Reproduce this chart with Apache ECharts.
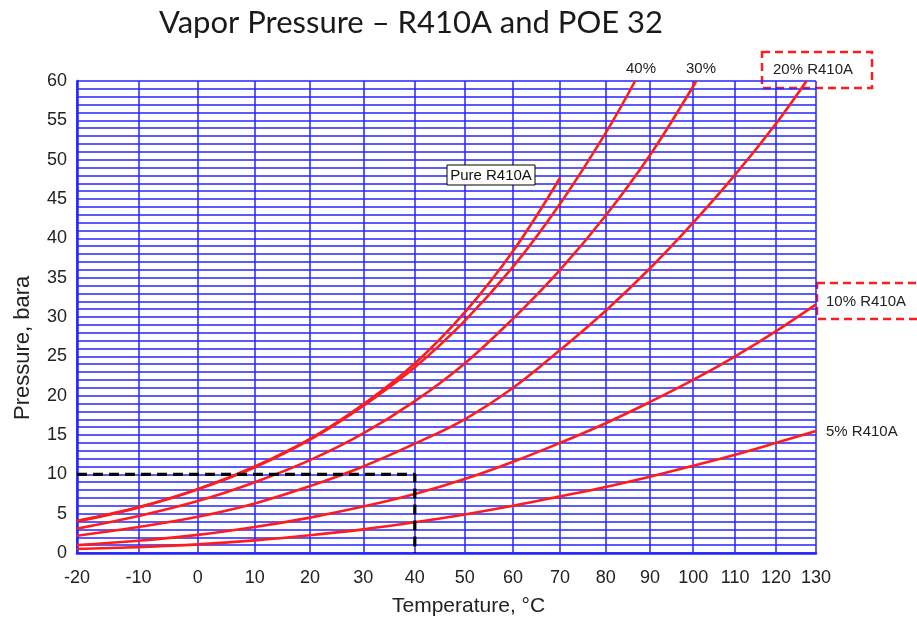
<!DOCTYPE html>
<html><head><meta charset="utf-8">
<script src="https://cdn.jsdelivr.net/npm/echarts@6/dist/echarts.min.js"></script>
<style>html,body{margin:0;padding:0;background:#fff}#c{width:917px;height:624px}</style>
</head><body><div id="c"></div>
<script>
// Temperature ticks (°C); the x axis is logarithmic in absolute temperature
const tempTicks = [-20,-10,0,10,20,30,40,50,60,70,80,90,100,110,120,130];
const temps = [-20,-10,0,10,20,30,40,50,60,70,80,90,100,110,120,130];
const pressureTicks = [0,5,10,15,20,25,30,35,40,45,50,55,60];
// Pressure, bara, at each temperature in temps (series stop where the curve ends)
const purePress  = [4.0,5.8,8.1,11.0,14.5,18.9,24.1,30.6,38.4,47.7];
const pct40Press = [4.1,5.8,8.1,10.9,14.4,18.7,23.6,29.5,36.4,44.4,53.4];
const pct40End   = [86.6,60];
const pct30Press = [3.1,4.7,6.6,9.0,11.8,15.2,19.3,24.1,29.8,36.0,42.9,50.6,59.3];
const pct30End   = [100.7,60];
const pct20Press = [2.2,3.3,4.6,6.3,8.5,11.0,13.9,17.0,21.0,25.8,30.8,36.2,42.0,48.1,54.6];
const pct20End   = [127.6,60];
const pct10Press = [1.0,1.55,2.3,3.3,4.5,5.9,7.5,9.4,11.6,14.0,16.5,19.2,22.0,25.0,28.2,31.6];
const pct5Press  = [0.5,0.75,1.1,1.6,2.25,3.0,3.9,4.9,6.0,7.2,8.4,9.7,11.1,12.5,14.0,15.5];
// Reference dashed guide (°C, bara)
const refTemps = [-20,40,40];
const refPress = [10,10,0];

const K = 273.15;
function build(press, end) {
  const d = press.map((p, i) => [temps[i] + K, p]);
  if (end) d.push([end[0] + K, end[1]]);
  return d;
}
const kTicks = tempTicks.map(t => t + K);
const BLUE = '#2424ff';
const RED = '#ff1c1c';
const curve = (name, data) => ({
  name, type: 'line', data, smooth: 0.4, showSymbol: false, silent: true,
  lineStyle: { color: RED, width: 2.6 }, z: 3
});

const chart = echarts.init(document.getElementById('c'), null, { renderer: 'canvas' });
chart.setOption({
  animation: false,
  backgroundColor: '#fff',
  title: {
    text: 'Vapor Pressure – R410A and POE 32',
    left: 406, top: 2, textAlign: 'center',
    textStyle: { fontFamily: 'Lato', fontSize: 31, fontWeight: 'normal', color: '#1a1a1a' }
  },
  grid: { left: 77, right: 101, top: 81, bottom: 71 },
  xAxis: {
    type: 'log', logBase: 10, min: K - 20, max: K + 130,
    axisLine: { show: true, lineStyle: { color: BLUE, width: 2.5 } },
    axisTick: { show: false, customValues: kTicks },
    axisLabel: {
      customValues: kTicks, margin: 16,
      formatter: v => String(Math.round(v - K)),
      fontFamily: 'Liberation Sans', fontSize: 18, color: '#222'
    },
    splitLine: { show: true, lineStyle: { color: BLUE, width: 1.5 } },
    minorTick: { show: false }, minorSplitLine: { show: false }
  },
  yAxis: {
    type: 'value', min: 0, max: 60, interval: 5,
    axisLine: { show: true, lineStyle: { color: BLUE, width: 2.5 } },
    axisTick: { show: false },
    axisLabel: { margin: 10, fontFamily: 'Liberation Sans', fontSize: 18, color: '#222',
      formatter: v => pressureTicks.includes(v) ? String(v) : '' },
    splitLine: { show: true, lineStyle: { color: BLUE, width: 1.5 } },
    minorTick: { show: false, splitNumber: 5 },
    minorSplitLine: { show: true, lineStyle: { color: BLUE, width: 1.5 } }
  },
  series: [
    curve('Pure R410A', build(purePress)),
    curve('40%', build(pct40Press, pct40End)),
    curve('30%', build(pct30Press, pct30End)),
    curve('20% R410A', build(pct20Press, pct20End)),
    curve('10% R410A', build(pct10Press)),
    curve('5% R410A', build(pct5Press)),
    {
      name: 'ref', type: 'line', showSymbol: false, silent: true, z: 4,
      data: refTemps.map((t, i) => [t + K, refPress[i]]),
      lineStyle: { color: '#000', width: 3.2, type: [10, 6] }
    }
  ],
  graphic: [
    { type: 'text', left: 392, top: 596, style: { text: 'Temperature, °C', font: '21px "Liberation Sans"', fill: '#222' } },
    { type: 'text', x: 12, y: 420, rotation: Math.PI / 2, style: { text: 'Pressure, bara', font: '22px "Liberation Sans"', fill: '#222' } },
    { type: 'text', x: 641, y: 69, style: { text: '40%', font: '15px "Liberation Sans"', fill: '#222', align: 'center', verticalAlign: 'middle' } },
    { type: 'text', x: 701, y: 69, style: { text: '30%', font: '15px "Liberation Sans"', fill: '#222', align: 'center', verticalAlign: 'middle' } },
    { type: 'rect', shape: { x: 762, y: 52, width: 110, height: 36 }, style: { fill: 'none', stroke: RED, lineWidth: 2.5, lineDash: [8, 5] } },
    { type: 'text', x: 813, y: 70, style: { text: '20% R410A', font: '15px "Liberation Sans"', fill: '#222', align: 'center', verticalAlign: 'middle' } },
    { type: 'rect', shape: { x: 817, y: 283, width: 110, height: 36 }, style: { fill: 'none', stroke: RED, lineWidth: 2.5, lineDash: [8, 5] } },
    { type: 'text', x: 826, y: 302, style: { text: '10% R410A', font: '15px "Liberation Sans"', fill: '#222', verticalAlign: 'middle' } },
    { type: 'text', x: 826, y: 432, style: { text: '5% R410A', font: '15px "Liberation Sans"', fill: '#222', verticalAlign: 'middle' } },
    { type: 'rect', z: 10, shape: { x: 447, y: 165, width: 88, height: 20 }, style: { fill: '#fff', stroke: '#000', lineWidth: 1 } },
    { type: 'text', z: 11, x: 491, y: 175.5, style: { text: 'Pure R410A', font: '15px "Liberation Sans"', fill: '#111', align: 'center', verticalAlign: 'middle' } }
  ]
});
</script></body></html>
